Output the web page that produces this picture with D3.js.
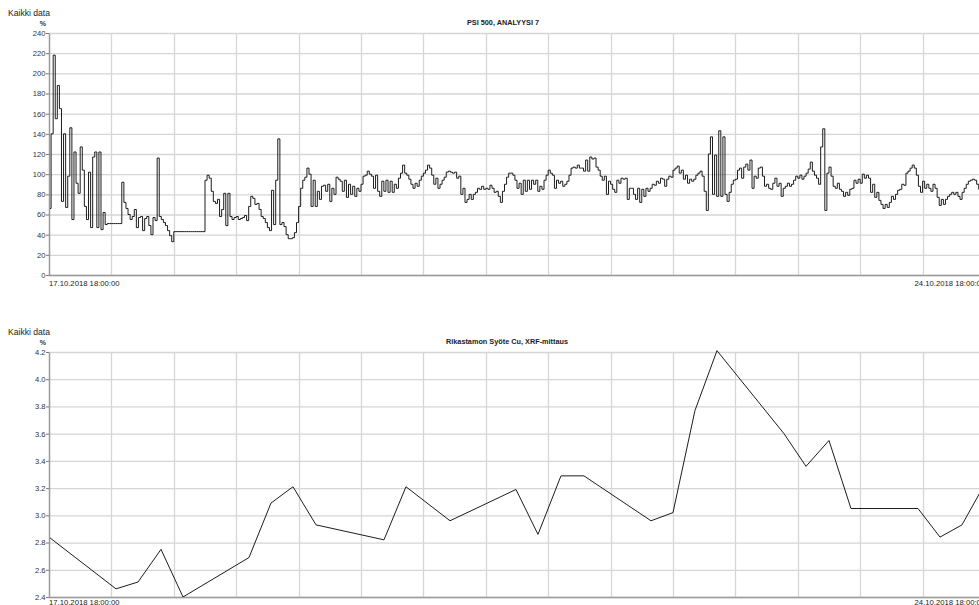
<!DOCTYPE html>
<html>
<head>
<meta charset="utf-8">
<script src="https://cdn.jsdelivr.net/npm/d3@7"></script>
<style>
  html, body { margin: 0; padding: 0; background: #fff; }
  svg { display: block; }
  text { font-family: "Liberation Sans", Arial, sans-serif; }
</style>
</head>
<body>
<svg id="chart" width="979" height="605"></svg>
<script>
// ---- data ----------------------------------------------------------------
const startTime = "2018-10-17T18:00:00";
const spanHours = 178.85;          // visible time window
const gridStepHours = 12;          // vertical grid every 12 hours
const xLabelHours = [0, 168];      // labelled instants (hours after start)

// PSI 500, analyysi 7 (%), sampled every 0.4 h
const psiStepHours = 0.4;
const psiValues = [
  66, 140, 218, 155, 188, 165, 73, 140, 67, 98,
  146, 55, 122, 91, 81, 127, 104, 68, 55, 102,
  47, 117, 122, 47, 122, 45, 62, 50, 51, 51,
  51, 51, 51, 51, 51, 92, 72, 66, 60, 55,
  58, 65, 47, 57, 58, 44, 56, 58, 49, 40,
  57, 54, 116, 58, 55, 52, 49, 44, 39, 33,
  43, 43, 43, 43, 43, 43, 43, 43, 43, 43,
  43, 43, 43, 43, 43, 94, 99, 96, 83, 73,
  71, 75, 58, 65, 81, 49, 81, 58, 55, 57,
  58, 55, 56, 57, 59, 54, 68, 78, 76, 70,
  71, 65, 58, 56, 52, 47, 44, 84, 50, 94,
  135, 50, 52, 48, 40, 36, 36, 37, 42, 52,
  68, 86, 94, 97, 106, 100, 68, 94, 68, 83,
  75, 88, 89, 83, 90, 73, 86, 80, 97, 95,
  93, 83, 94, 77, 90, 80, 88, 78, 86, 83,
  90, 98, 99, 103, 100, 98, 86, 99, 83, 78,
  93, 83, 94, 82, 93, 82, 90, 86, 96, 101,
  109, 101, 99, 95, 90, 86, 91, 88, 94, 98,
  101, 104, 109, 106, 99, 90, 96, 86, 90, 94,
  97, 102, 103, 102, 101, 102, 96, 98, 80, 86,
  72, 75, 80, 75, 80, 82, 86, 85, 88, 85,
  86, 85, 89, 86, 82, 83, 78, 72, 83, 90,
  97, 101, 101, 99, 94, 86, 91, 80, 94, 83,
  94, 85, 94, 90, 94, 83, 88, 85, 94, 99,
  104, 101, 99, 86, 94, 91, 93, 88, 90, 93,
  99, 106, 107, 106, 109, 106, 106, 103, 114, 103,
  117, 115, 116, 107, 104, 98, 94, 98, 80, 93,
  90, 85, 82, 94, 91, 96, 95, 96, 75, 86,
  86, 80, 75, 86, 72, 85, 78, 86, 83, 86,
  90, 89, 93, 91, 96, 95, 88, 95, 98, 97,
  104, 106, 108, 101, 104, 95, 99, 91, 95, 93,
  95, 99, 101, 103, 98, 83, 64, 120, 137, 80,
  119, 78, 143, 78, 137, 80, 73, 82, 90, 94,
  95, 104, 106, 96, 107, 110, 104, 114, 86, 98,
  96, 106, 107, 98, 88, 90, 86, 85, 91, 96,
  88, 91, 78, 86, 88, 91, 88, 90, 94, 98,
  96, 99, 95, 98, 101, 105, 112, 103, 99, 96,
  90, 127, 145, 64, 101, 107, 98, 88, 86, 91,
  85, 83, 78, 82, 79, 85, 86, 94, 91, 95,
  91, 100, 96, 99, 96, 82, 90, 77, 82, 74,
  70, 66, 70, 67, 72, 78, 75, 80, 84, 85,
  90, 89, 101, 103, 106, 109, 106, 99, 88, 82,
  93, 86, 90, 86, 83, 90, 86, 77, 69, 75,
  70, 75, 78, 80, 82, 80, 82, 78, 75, 82,
  86, 90, 93, 94, 95, 94, 90, 85, 84, 86
];
const psiTicks = [0, 20, 40, 60, 80, 100, 120, 140, 160, 180, 200, 220, 240];

// Rikastamon syöte Cu, XRF-mittaus (%)
const cuHours = [0, 12.88, 17.12, 21.54, 25.77, 38.46, 42.69, 46.92, 51.35,
  64.42, 68.65, 77.12, 89.81, 94.04, 98.46, 102.88, 115.77, 120.0, 124.23,
  128.46, 141.35, 145.58, 150.0, 154.23, 167.12, 171.35, 175.58, 179.81];
const cuValues = [2.84, 2.46, 2.51, 2.75, 2.40, 2.69, 3.09, 3.21, 2.93,
  2.82, 3.21, 2.96, 3.19, 2.86, 3.29, 3.29, 2.96, 3.02, 3.77,
  4.21, 3.60, 3.36, 3.55, 3.05, 3.05, 2.84, 2.93, 3.22];
const cuTicks = [2.4, 2.6, 2.8, 3.0, 3.2, 3.4, 3.6, 3.8, 4.0, 4.2];

// ---- drawing -------------------------------------------------------------
const svg = d3.select("#chart");
const W = 979;
const t0 = new Date(startTime);
const atHour = h => new Date(t0.getTime() + h * 3600e3);
const fmtDate = d3.timeFormat("%d.%m.%Y %H:%M:%S");

const left = 49, right = W;
const x = d3.scaleTime().domain([t0, atHour(spanHours)]).range([left, right]);
const gridTimes = d3.timeHour.range(t0, atHour(spanHours), gridStepHours);

function panel(opts) {
  const { top, bottom, labelGap, yDomain, ticks, fmt, title, titleX, headerY, data, curve, clipId } = opts;
  const y = d3.scaleLinear().domain(yDomain).range([bottom, top]);
  const g = svg.append("g");

  // header texts
  g.append("text").attr("x", 8).attr("y", headerY)
    .attr("font-size", 8.6).attr("fill", "#222").text("Kaikki data");
  g.append("text").attr("x", 46).attr("y", top - 7.5).attr("text-anchor", "end")
    .attr("font-size", 7).attr("font-weight", "bold").attr("fill", "#333").text("%");
  g.append("text").attr("x", titleX).attr("y", top - 8).attr("text-anchor", "middle")
    .attr("font-size", 7.3).attr("font-weight", "bold").attr("fill", "#222").text(title);

  // grid
  g.append("g").selectAll("line").data(ticks).join("line")
    .attr("x1", left).attr("x2", right)
    .attr("y1", d => y(d) + 0.5).attr("y2", d => y(d) + 0.5)
    .attr("stroke", "#d6d6d6").attr("stroke-width", 1.3);
  g.append("g").selectAll("line").data(gridTimes.slice(1)).join("line")
    .attr("x1", d => Math.round(x(d)) + 0.5).attr("x2", d => Math.round(x(d)) + 0.5)
    .attr("y1", top).attr("y2", bottom)
    .attr("stroke", "#d6d6d6").attr("stroke-width", 1.3);

  // y axis
  const ax = g.append("g").attr("transform", `translate(${left},0)`)
    .call(d3.axisLeft(y).tickValues(ticks).tickFormat(fmt).tickSize(3).tickSizeOuter(0));
  ax.select(".domain").attr("stroke", "#9a9a9a").attr("stroke-width", 1.5);
  ax.selectAll(".tick line").attr("stroke", "#777");
  ax.selectAll(".tick text").attr("font-size", 7.6).attr("fill", "#333")
    .attr("font-family", "Liberation Sans, Arial, sans-serif").attr("x", -3.5);

  // x axis baseline and labels
  g.append("line").attr("x1", left).attr("x2", right)
    .attr("y1", bottom + 0.5).attr("y2", bottom + 0.5)
    .attr("stroke", "#9a9a9a").attr("stroke-width", 1.5);
  g.append("g").selectAll("text").data(xLabelHours.map(atHour)).join("text")
    .attr("x", d => Math.max(left, x(d) - 8))
    .attr("y", bottom + labelGap)
    .attr("font-size", 7.7).attr("fill", "#222")
    .text(d => fmtDate(d));

  // series
  svg.append("clipPath").attr("id", clipId).append("rect")
    .attr("x", left + 1).attr("y", top - 2).attr("width", right - left).attr("height", bottom - top + 2);
  const line = d3.line().x(d => x(d[0])).y(d => y(d[1])).curve(curve);
  g.append("path").datum(data).attr("clip-path", `url(#${clipId})`)
    .attr("d", line).attr("fill", "none")
    .attr("stroke", "#111").attr("stroke-width", 0.95).attr("stroke-linejoin", "miter");
}

panel({
  top: 33, bottom: 275, labelGap: 11, yDomain: [0, 240], ticks: psiTicks, fmt: d3.format("d"),
  title: "PSI 500, ANALYYSI 7", titleX: 503, headerY: 16,
  data: psiValues.map((v, i) => [atHour(i * psiStepHours), v]),
  curve: d3.curveStepAfter, clipId: "clipTop"
});

panel({
  top: 352, bottom: 597, labelGap: 7.5, yDomain: [2.4, 4.2], ticks: cuTicks, fmt: d3.format(".1f"),
  title: "Rikastamon Syöte Cu, XRF-mittaus", titleX: 507, headerY: 335,
  data: cuHours.map((h, i) => [atHour(h), cuValues[i]]),
  curve: d3.curveLinear, clipId: "clipBottom"
});
</script>
</body>
</html>
